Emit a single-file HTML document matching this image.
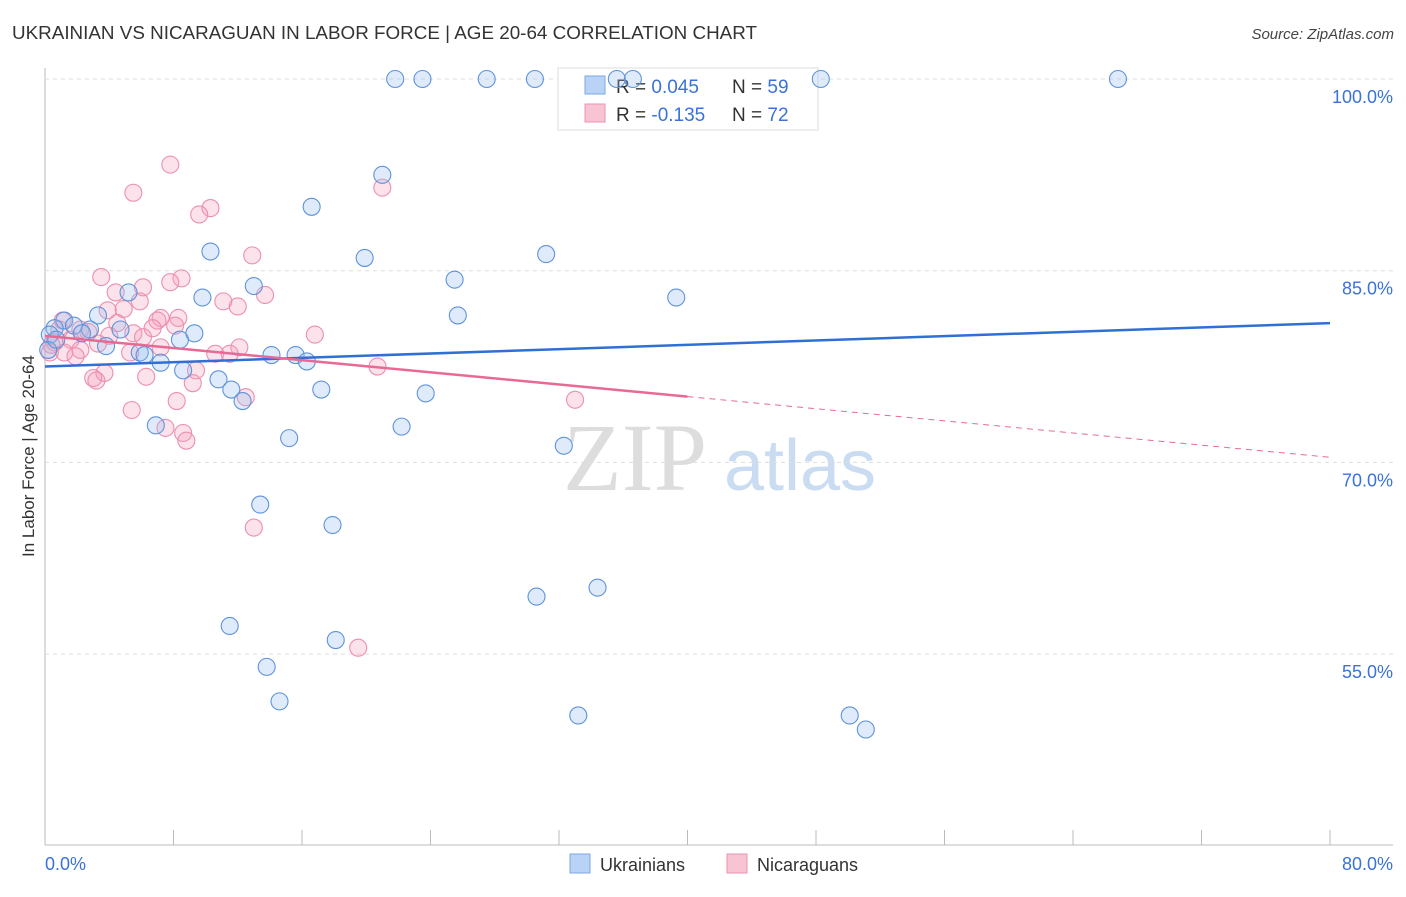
<!DOCTYPE html>
<html><head><meta charset="utf-8"><style>
body{margin:0;background:#fff;font-family:"Liberation Sans",sans-serif;}
</style></head><body>
<svg id="c" width="1406" height="892" xmlns="http://www.w3.org/2000/svg" style="font-family:'Liberation Sans',sans-serif">
<text x="12" y="39" font-size="18" fill="#333" textLength="745" lengthAdjust="spacingAndGlyphs">UKRAINIAN VS NICARAGUAN IN LABOR FORCE | AGE 20-64 CORRELATION CHART</text>
<text x="1394" y="39" font-size="15" fill="#444" text-anchor="end" font-style="italic">Source: ZipAtlas.com</text>
<text transform="translate(34,456) rotate(-90)" font-size="17" fill="#333" text-anchor="middle">In Labor Force | Age 20-64</text>
<g><text x="635" y="490" font-size="96" fill="#ddd" font-family="Liberation Serif" text-anchor="middle">ZIP</text><text x="800" y="490" font-size="72" fill="#c9dcf2" text-anchor="middle">atlas</text></g>
<g id="grid"></g>
<g>
<rect x="558" y="68" width="260" height="62" fill="#fff" stroke="#ddd"/>
<rect x="585" y="76" width="20" height="18" fill="#b8d3f5" stroke="#7aa9e6"/>
<rect x="585" y="104" width="20" height="18" fill="#f8c3d3" stroke="#ee93b1"/>
<text x="616" y="93" font-size="19" fill="#333">R = <tspan fill="#3a72d8">0.045</tspan></text>
<text x="732" y="93" font-size="19" fill="#333">N = <tspan fill="#3a72d8">59</tspan></text>
<text x="616" y="121" font-size="19" fill="#333">R = <tspan fill="#3a72d8">-0.135</tspan></text>
<text x="732" y="121" font-size="19" fill="#333">N = <tspan fill="#3a72d8">72</tspan></text>
</g>
<g id="marks"></g>
<g>
<rect x="570" y="854" width="20" height="19" fill="#b8d3f5" stroke="#7aa9e6"/><text x="600" y="871" font-size="18" fill="#333">Ukrainians</text>
<rect x="727" y="854" width="20" height="19" fill="#f8c3d3" stroke="#ee93b1"/><text x="757" y="871" font-size="18" fill="#333">Nicaraguans</text>
</g>
</svg>
<script>
const yTicks=[100,85,70,55];
const xTickLabels=["0.0%","80.0%"];
const ukrX=[21.8,23.5,27.5,30.5,35.6,36.6,48.3,66.8,21.0,16.6,10.3,19.9,31.2,25.5,13.0,9.8,39.3,5.2,25.7,3.3,1.2,0.6,1.8,2.8,4.7,9.3,8.4,3.8,5.9,6.2,14.1,15.6,16.3,7.2,8.6,10.8,11.6,17.2,12.3,23.7,6.9,22.2,15.2,32.3,13.4,17.9,30.6,34.4,11.5,18.1,13.8,14.6,33.2,50.1,51.1,0.3,0.2,0.7,2.3];
const ukrY=[100,100,100,100,100,100,100,100,92.5,90.0,86.5,86.0,86.3,84.3,83.8,82.9,82.9,83.3,81.5,81.5,81.1,80.5,80.7,80.4,80.4,80.1,79.6,79.1,78.6,78.4,78.4,78.4,77.9,77.8,77.2,76.5,75.7,75.7,74.8,75.4,72.9,72.8,71.9,71.3,66.7,65.1,59.5,60.2,57.2,56.1,54.0,51.3,50.2,50.2,49.1,80.0,78.8,79.6,80.1];
const nicX=[7.8,5.5,10.3,9.6,12.9,3.5,8.5,7.8,6.1,4.4,13.7,11.1,5.9,12.0,4.9,3.9,7.2,8.3,7.0,1.1,4.5,8.1,6.7,2.2,5.5,16.8,4.0,2.7,1.6,6.1,0.6,3.3,7.2,12.1,2.2,1.2,5.3,10.6,11.5,1.9,0.3,9.4,20.7,3.7,6.3,3.0,3.2,9.2,12.5,8.2,33.0,5.4,7.5,8.6,8.8,21.0,13.0,19.5,0.9,0.4];
const nicY=[93.3,91.1,89.9,89.4,86.2,84.5,84.4,84.1,83.7,83.3,83.1,82.6,82.6,82.2,82.0,81.9,81.3,81.3,81.1,81.1,80.9,80.7,80.5,80.4,80.1,80.0,79.9,80.2,79.6,79.8,79.4,79.3,79.0,79.0,78.8,78.6,78.6,78.5,78.5,78.3,78.6,77.2,77.5,77.0,76.7,76.6,76.4,76.2,75.1,74.8,74.9,74.1,72.7,72.3,71.7,91.5,64.9,55.5,80.4,79.2];
const ukrTrend=[77.5,80.9];
const nicTrend=[79.9,70.4];
const nicSolidEnd=40;
const X=v=>45+v*1285/80, Y=v=>79+(100-v)*191.7/15;
const NS="http://www.w3.org/2000/svg";
function mk(t,a,p){const e=document.createElementNS(NS,t);for(const k in a)e.setAttribute(k,a[k]);p.appendChild(e);return e;}
const g=document.getElementById('grid'),m=document.getElementById('marks');
mk('line',{x1:45,y1:68,x2:45,y2:845,stroke:'#bbb'},g);
mk('line',{x1:45,y1:845,x2:1393,y2:845,stroke:'#bbb'},g);
for(let i=0;i<=10;i++){const l=mk('line',{x1:X(i*8),y1:830,x2:X(i*8),y2:845,stroke:'#bbb'},g);}
yTicks.forEach(v=>{const l=mk('line',{x1:45,y1:Y(v),x2:1393,y2:Y(v),stroke:'#ddd','stroke-dasharray':'4,4'},g);

const t=mk('text',{x:1393,y:Y(v)+24,'font-size':18,fill:'#3a72d8','text-anchor':'end'},g);t.textContent=v.toFixed(1)+'%';
});
[[0,'start',45],[80,'end',1393]].forEach((d,i)=>{const t=mk('text',{x:d[2],y:870,'font-size':18,fill:'#3a72d8','text-anchor':d[1]},g);t.textContent=xTickLabels[i];
});
nicX.forEach((x,i)=>{const c=mk('circle',{cx:X(x),cy:Y(nicY[i]),r:8.5,fill:'rgba(245,160,190,0.3)',stroke:'#ec8fae','stroke-width':1.1},m);
});
ukrX.forEach((x,i)=>{const c=mk('circle',{cx:X(x),cy:Y(ukrY[i]),r:8.5,fill:'rgba(150,190,240,0.3)',stroke:'#5e93dc','stroke-width':1.1},m);
});
const l1=mk('line',{x1:X(0),y1:Y(ukrTrend[0]),x2:X(80),y2:Y(ukrTrend[1]),stroke:'#2f6fd6','stroke-width':2.5},m);

const ny=x=>nicTrend[0]+(nicTrend[1]-nicTrend[0])*x/80;
const l2=mk('line',{x1:X(0),y1:Y(ny(0)),x2:X(nicSolidEnd),y2:Y(ny(nicSolidEnd)),stroke:'#e86a94','stroke-width':2.5},m);

const l3=mk('line',{x1:X(nicSolidEnd),y1:Y(ny(nicSolidEnd)),x2:X(80),y2:Y(ny(80)),stroke:'#e86a94','stroke-width':1,'stroke-dasharray':'6,5'},m);

</script>
</body></html>
